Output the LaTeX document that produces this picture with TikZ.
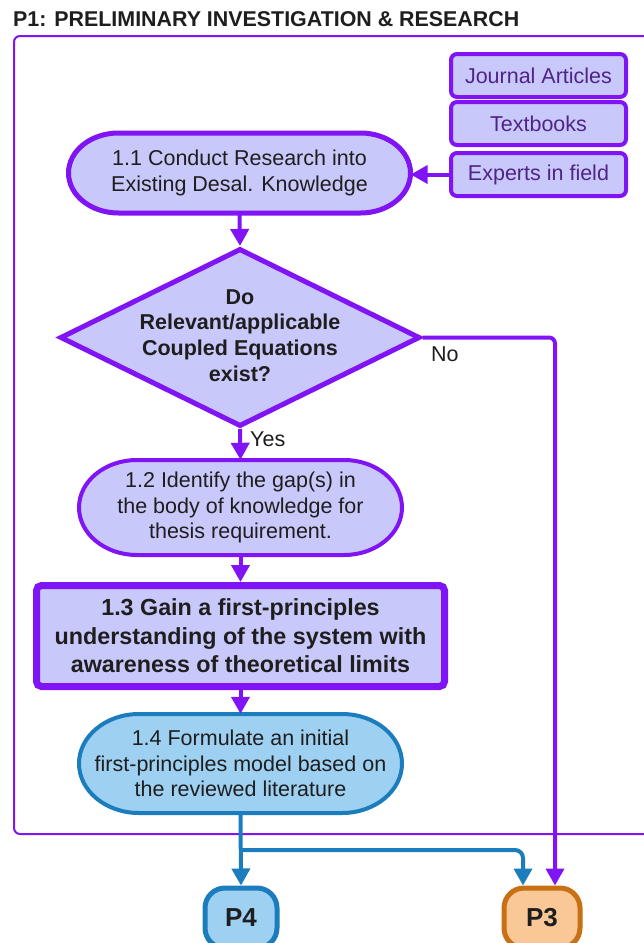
\documentclass[tikz,border=0pt]{standalone}
\usepackage{fontspec}
\setmainfont{Liberation Sans}
\usetikzlibrary{arrows.meta,shapes.geometric,calc}
\definecolor{vio}{RGB}{128,20,245}
\definecolor{lav}{RGB}{200,200,250}
\definecolor{boxtxt}{RGB}{80,36,135}
\definecolor{ink}{RGB}{30,30,30}
\definecolor{bstroke}{RGB}{28,125,190}
\definecolor{bfill}{RGB}{158,208,242}
\definecolor{ostroke}{RGB}{200,112,20}
\definecolor{ofill}{RGB}{250,200,150}
% capsule outline with elliptical ends: centre, width, height, end radius, style
\newcommand\capsule[5]{%
  \draw[#5] ($(#1)+({-#2/2+#4},{-#3/2})$) -- ($(#1)+({#2/2-#4},{-#3/2})$)
    arc[start angle=90, end angle=-90, x radius=#4pt, y radius={#3/2*1pt}]
    -- ($(#1)+({-#2/2+#4},{#3/2})$)
    arc[start angle=270, end angle=90, x radius=#4pt, y radius={#3/2*1pt}]
    -- cycle;}
\begin{document}
\begin{tikzpicture}[x=1pt,y=-1pt,
  txt/.style={font=\fontsize{21.5}{25.5}\selectfont, text=ink, align=center},
  source/.style={draw=vio, fill=lav, line width=4pt, rounded corners=6pt,
    minimum width=175pt, minimum height=43pt, inner sep=0pt,
    font=\fontsize{21.5}{25.5}\selectfont, text=boxtxt},
  stadium/.style={txt, inner sep=0pt},
  flow/.style={draw=vio, line width=4pt, -{Triangle[width=18pt,length=17pt]}},
  flowb/.style={draw=bstroke, line width=4pt, -{Triangle[width=18pt,length=17pt]}},
  term/.style={line width=5pt, rounded corners=20pt, minimum width=72pt,
    minimum height=60pt, inner sep=0pt, text=ink,
    font=\bfseries\fontsize{26}{30}\selectfont}
]
\useasboundingbox (0,0) rectangle (644,943);
\clip (0,0) rectangle (644,943);
\fill[white] (0,0) rectangle (644,943);

% heading and frame of the phase
\node[anchor=base west, inner sep=0pt, text=ink,
  font=\bfseries\fontsize{21.4}{25}\selectfont] (title) at (13,26)
  {P1: PRELIMINARY INVESTIGATION \& RESEARCH};
\draw[vio, line width=2pt, rounded corners=6pt] (14,36) rectangle (690,834);

% sources of information
\node[source] (jour) at (538.5,75.5) {Journal Articles};
\node[source] (text) at (538.5,123.5) {Textbooks};
\node[source] (exp)  at (538.5,174.5) {Experts in field};

% process steps
\coordinate (c11) at (239.5,173);
\capsule{c11}{342}{80}{50}{draw=vio, fill=lav, line width=5pt}
\node[stadium, minimum width=342pt, minimum height=80pt] (n11) at (c11)
  {1.1 Conduct Research into\\Existing Desal. Knowledge};

\node[draw=vio, fill=lav, line width=5pt, shape=diamond, inner sep=0pt,
  minimum width=360pt, minimum height=178pt] (dia) at (240,337.5) {};
\node[txt, font=\bfseries\fontsize{21.5}{25.8}\selectfont] (diatxt)
  at ($(dia.center)+(0,-2)$)
  {Do\\Relevant/applicable\\Coupled Equations\\exist?};

\coordinate (c12) at (240.5,507.5);
\capsule{c12}{323}{95}{58}{draw=vio, fill=lav, line width=4pt}
\node[stadium, minimum width=323pt, minimum height=95pt] (n12) at (c12)
  {1.2 Identify the gap(s) in\\the body of knowledge for\\thesis requirement.};

\node[txt, draw=vio, fill=lav, line width=7pt, rounded corners=5pt,
  minimum width=408pt, minimum height=101pt, inner sep=0pt,
  font=\bfseries\fontsize{23.3}{28.5}\selectfont] (n13) at (240.5,636)
  {1.3 Gain a first-principles\\understanding of the system with\\awareness of theoretical limits};

\coordinate (c14) at (240.5,763.5);
\capsule{c14}{323}{99}{60}{draw=bstroke, fill=bfill, line width=4pt}
\node[stadium, minimum width=323pt, minimum height=99pt] (n14) at (c14)
  {1.4 Formulate an initial\\first-principles model based on\\the reviewed literature};

% off-page connectors
\node[term, draw=bstroke, fill=bfill] (p4) at (241,918) {P4};
\node[term, draw=ostroke, fill=ofill, minimum width=76pt] (p3) at (542,918) {P3};

% connectors
\draw[flow] (exp.west) -- (exp.west -| n11.east);
\draw[flow] (n11.south) -- (dia.north);
\draw[flow] (dia.south) -- (n12.north);
\draw[flow, rounded corners=6pt] (dia.east) -| ($(p3.north)+(13,0)$);
\draw[flow] (n12.south) -- (n13.north);
\draw[flow] (n13.south) -- (n14.north);
\draw[flowb] (n14.south) -- (p4.north);
\coordinate (split) at (240.5,850);
\draw[flowb, rounded corners=8pt] (split) -| ($(p3.north)+(-19,0)$);

% branch labels
\node[txt, anchor=base west, inner sep=0pt] (no) at (431,361) {No};
\node[txt, anchor=base west, inner sep=0pt] (yes) at (250,446) {Yes};
\end{tikzpicture}
\end{document}
